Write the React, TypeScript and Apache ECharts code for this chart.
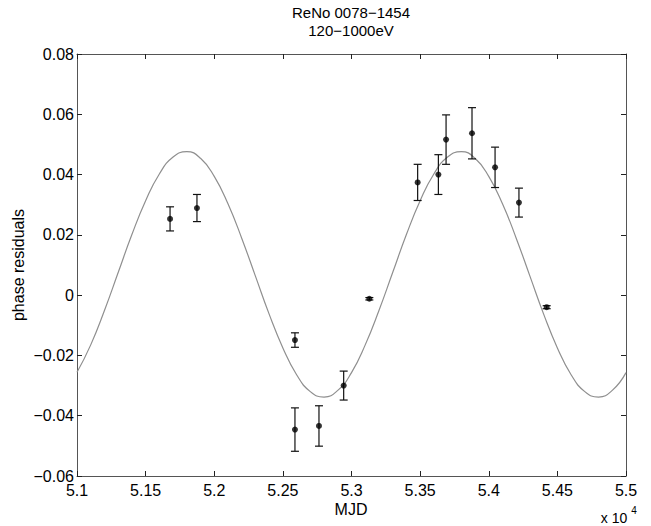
import React, { useEffect, useRef } from "react";
import * as echarts from "echarts";

// Observations (MJD in units of 10^4 days)
const mjd = [5.1678, 5.1874, 5.2588, 5.2588, 5.2763, 5.2943, 5.313, 5.3482, 5.3633, 5.3689, 5.3878, 5.4046, 5.422, 5.4422];
const residual = [0.0253, 0.0289, -0.0149, -0.0446, -0.0434, -0.03, -0.0012, 0.0374, 0.04, 0.0516, 0.0537, 0.0424, 0.0307, -0.004];
const errorSize = [0.004, 0.0045, 0.0024, 0.0072, 0.0067, 0.0048, 0.0004, 0.006, 0.0066, 0.0082, 0.0085, 0.0067, 0.0048, 0.0005];

// Fitted sinusoid at 0.01 steps
const fitMJD = [
  5.1, 5.11, 5.12, 5.13, 5.14, 5.15, 5.16, 5.17, 5.18, 5.19,
  5.2, 5.21, 5.22, 5.23, 5.24, 5.25, 5.26, 5.27, 5.28, 5.29,
  5.3, 5.31, 5.32, 5.33, 5.34, 5.35, 5.36, 5.37, 5.38, 5.39,
  5.4, 5.41, 5.42, 5.43, 5.44, 5.45, 5.46, 5.47, 5.48, 5.49, 5.5,
];
const fitResidual = [
  -0.0256, -0.0165, -0.0051, 0.0075, 0.0201, 0.0313, 0.0402, 0.0458, 0.0476, 0.0454,
  0.0394, 0.0303, 0.0189, 0.0063, -0.0063, -0.0175, -0.0264, -0.032, -0.0338, -0.0316,
  -0.0257, -0.0165, -0.0051, 0.0075, 0.0201, 0.0313, 0.0402, 0.0458, 0.0476, 0.0454,
  0.0394, 0.0303, 0.0189, 0.0063, -0.0063, -0.0175, -0.0264, -0.032, -0.0338, -0.0316, -0.0257,
];

const titleLines = ["ReNo 0078\u22121454", "120\u22121000eV"];
const xName = "MJD";
const yName = "phase residuals";
const xScaleBase = "x 10";
const xScaleExp = "4";

const FONT = "'Liberation Sans', Arial, Helvetica, sans-serif";

export default function App() {
  const ref = useRef<HTMLDivElement>(null);

  useEffect(() => {
    document.body.style.margin = "0";
    if (!ref.current) return;
    const chart = echarts.init(ref.current, undefined, { renderer: "svg" });

    const points = mjd.map((x, i) => [x, residual[i]]);
    const bars = mjd.map((x, i) => [x, residual[i] - errorSize[i], residual[i] + errorSize[i]]);
    const fit = fitMJD.map((x, i) => [x, fitResidual[i]]);

    const axisColor = "#555";
    const xFmt = (v: number) => String(Number(v.toFixed(2)));
    const yFmt = (v: number) => {
      const r = Number(v.toFixed(2));
      if (r === 0) return "0";
      return (r < 0 ? "\u2212" : "") + Math.abs(r).toFixed(2);
    };

    const baseX = {
      type: "value" as const,
      min: 5.1,
      max: 5.5,
      interval: 0.05,
      splitLine: { show: false },
      axisLine: { show: true, onZero: false, lineStyle: { color: axisColor, width: 1 } },
      axisTick: { show: true, inside: true, length: 5, lineStyle: { color: "#222" } },
    };
    const baseY = {
      type: "value" as const,
      min: -0.06,
      max: 0.08,
      interval: 0.02,
      splitLine: { show: false },
      axisLine: { show: true, onZero: false, lineStyle: { color: axisColor, width: 1 } },
      axisTick: { show: true, inside: true, length: 5, lineStyle: { color: "#222" } },
    };

    const txt = (text: string, x: number, y: number, fontSize: number, extra: any = {}) => ({
      type: "text",
      x,
      y,
      ...extra,
      style: {
        text,
        align: "center",
        verticalAlign: "middle",
        fontSize,
        fontFamily: FONT,
        fill: "#000",
      },
    });

    chart.setOption({
      animation: false,
      backgroundColor: "#fff",
      textStyle: { fontFamily: FONT },
      grid: { left: 77, right: 25, top: 54, bottom: 50, containLabel: false },
      xAxis: [
        {
          ...baseX,
          position: "bottom",
          axisLabel: { show: true, formatter: xFmt, color: "#000", fontSize: 16, fontFamily: FONT, margin: 6, hideOverlap: false },
        },
        {
          ...baseX,
          position: "top",
          axisLabel: { show: false },
        },
      ],
      yAxis: [
        {
          ...baseY,
          position: "left",
          axisLabel: { show: true, formatter: yFmt, color: "#000", fontSize: 16, fontFamily: FONT, margin: 3, hideOverlap: false },
        },
        {
          ...baseY,
          position: "right",
          axisLabel: { show: false },
        },
      ],
      series: [
        {
          type: "line",
          data: fit,
          smooth: 0.5,
          showSymbol: false,
          symbol: "none",
          lineStyle: { color: "#8f8f8f", width: 1.2 },
          z: 1,
        },
        {
          type: "custom",
          data: bars,
          renderItem: (params: any, api: any) => {
            const x = api.value(0);
            const lo = api.value(1);
            const hi = api.value(2);
            const pHi = api.coord([x, hi]);
            const pLo = api.coord([x, lo]);
            const w = 4;
            const style = { stroke: "#111", lineWidth: 1.2 };
            return {
              type: "group",
              children: [
                { type: "line", shape: { x1: pHi[0], y1: pHi[1], x2: pLo[0], y2: pLo[1] }, style },
                { type: "line", shape: { x1: pHi[0] - w, y1: pHi[1], x2: pHi[0] + w, y2: pHi[1] }, style },
                { type: "line", shape: { x1: pLo[0] - w, y1: pLo[1], x2: pLo[0] + w, y2: pLo[1] }, style },
              ],
            };
          },
          encode: { x: 0, y: [1, 2] },
          z: 2,
        },
        {
          type: "scatter",
          data: points,
          symbol: "circle",
          symbolSize: 6,
          itemStyle: { color: "#000" },
          z: 3,
        },
      ],
      graphic: [
        txt(titleLines[0], 351, 12, 15),
        txt(titleLines[1], 351, 30, 15),
        txt(xName, 351, 509, 16),
        txt(yName, 18, 265, 16, { rotation: Math.PI / 2 }),
        txt(xScaleBase, 614, 518, 14),
        txt(xScaleExp, 634, 510, 10),
      ],
    });

    return () => chart.dispose();
  }, []);

  return <div ref={ref} style={{ width: 651, height: 526 }} />;
}
